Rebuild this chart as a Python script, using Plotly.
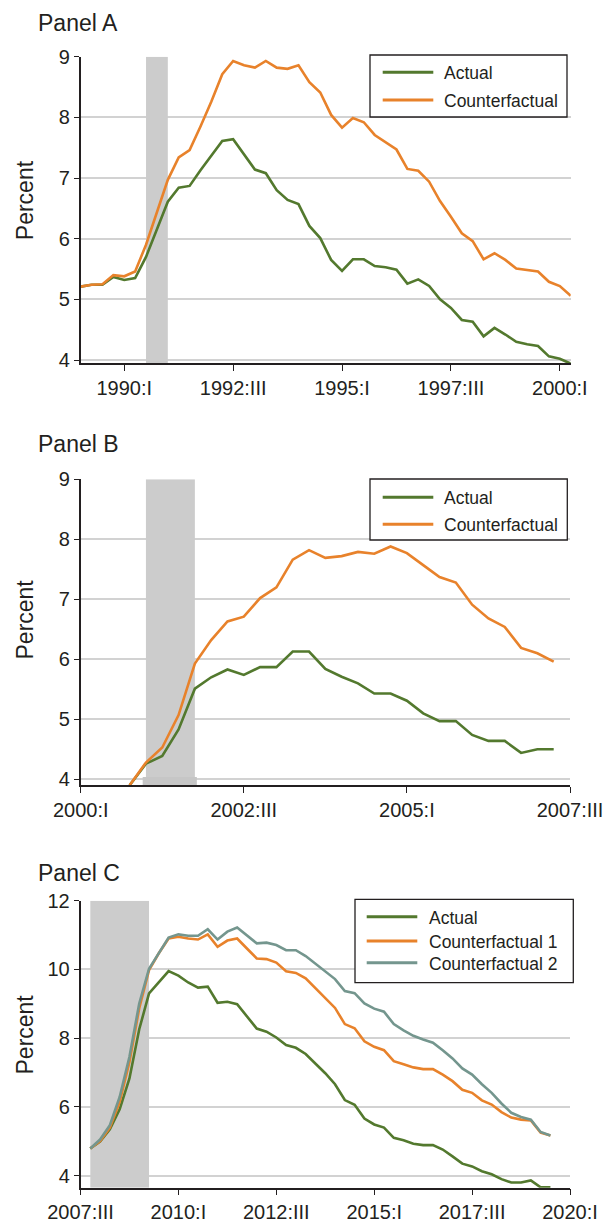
import plotly.graph_objects as go

# ---------------- data ----------------
# Panel A: quarterly, 1989:I - 2000:II
start_A = (1989, 1)
actual_A = [5.21, 5.24, 5.24, 5.37, 5.32, 5.35, 5.70, 6.17, 6.61, 6.84, 6.87, 7.13, 7.38, 7.61, 7.64, 7.38,
            7.14, 7.08, 6.80, 6.64, 6.57, 6.21, 6.01, 5.65, 5.47, 5.66, 5.66, 5.55, 5.53, 5.49, 5.26, 5.33,
            5.22, 5.00, 4.86, 4.66, 4.63, 4.39, 4.53, 4.42, 4.30, 4.26, 4.23, 4.06, 4.02, 3.94]
cf_A = [5.21, 5.24, 5.25, 5.40, 5.38, 5.46, 5.90, 6.42, 6.97, 7.34, 7.46, 7.85, 8.26, 8.71, 8.93, 8.86,
        8.82, 8.93, 8.82, 8.80, 8.86, 8.58, 8.41, 8.04, 7.83, 7.99, 7.92, 7.71, 7.59, 7.47, 7.15, 7.12,
        6.94, 6.62, 6.36, 6.09, 5.96, 5.66, 5.76, 5.65, 5.51, 5.49, 5.46, 5.29, 5.22, 5.06]
recession_A = ((1990, 3), (1991, 1))
range_A = ((1989, 1), (2000, 2))
ticks_A = ["1990:I", "1992:III", "1995:I", "1997:III", "2000:I"]

# Panel B: quarterly, 2000:IV - 2007:II
start_B = (2000, 4)
actual_B = [3.90, 4.26, 4.39, 4.83, 5.51, 5.70, 5.83, 5.74, 5.87, 5.87, 6.13, 6.13, 5.84, 5.71, 5.60,
            5.43, 5.43, 5.31, 5.10, 4.97, 4.97, 4.74, 4.64, 4.64, 4.44, 4.50, 4.50]
cf_B = [3.90, 4.28, 4.53, 5.07, 5.93, 6.32, 6.63, 6.71, 7.02, 7.20, 7.66, 7.82, 7.69, 7.72, 7.79,
        7.76, 7.88, 7.77, 7.57, 7.37, 7.28, 6.91, 6.68, 6.54, 6.19, 6.10, 5.96]
recession_B = ((2001, 1), (2001, 4))
range_B = ((2000, 1), (2007, 3))
ticks_B = ["2000:I", "2002:III", "2005:I", "2007:III"]

# Panel C: quarterly, 2007:IV - 2019:III
start_C = (2007, 4)
actual_C = [4.79, 4.99, 5.35, 5.93, 6.83, 8.26, 9.30, 9.64, 9.95, 9.82, 9.62, 9.47, 9.50, 9.03, 9.06, 8.99,
            8.62, 8.28, 8.19, 8.02, 7.80, 7.72, 7.54, 7.27, 6.98, 6.66, 6.20, 6.06, 5.66, 5.49, 5.40, 5.10,
            5.03, 4.93, 4.89, 4.89, 4.76, 4.56, 4.35, 4.27, 4.13, 4.04, 3.90, 3.80, 3.80, 3.86, 3.66, 3.66]
cf1_C = [4.79, 5.01, 5.40, 6.15, 7.31, 8.87, 9.98, 10.47, 10.90, 10.95, 10.90, 10.87, 11.02, 10.66, 10.84, 10.90,
         10.61, 10.32, 10.30, 10.20, 9.95, 9.90, 9.74, 9.45, 9.16, 8.88, 8.41, 8.29, 7.91, 7.75, 7.65, 7.33,
         7.24, 7.15, 7.10, 7.10, 6.94, 6.75, 6.50, 6.41, 6.19, 6.07, 5.85, 5.69, 5.63, 5.61, 5.25, 5.17]
cf2_C = [4.79, 5.05, 5.47, 6.29, 7.46, 9.01, 10.02, 10.47, 10.93, 11.02, 10.98, 10.98, 11.17, 10.87, 11.10, 11.22,
         10.98, 10.76, 10.78, 10.71, 10.56, 10.56, 10.39, 10.16, 9.93, 9.72, 9.37, 9.31, 9.01, 8.86, 8.77, 8.41,
         8.23, 8.07, 7.96, 7.87, 7.65, 7.41, 7.12, 6.94, 6.66, 6.41, 6.10, 5.83, 5.71, 5.63, 5.27, 5.17]
recession_C = ((2007, 4), (2009, 2))
range_C = ((2007, 3), (2020, 1))
ticks_C = ["2007:III", "2010:I", "2012:III", "2015:I", "2017:III", "2020:I"]

series_names_AB = ["Actual", "Counterfactual"]
series_names_C = ["Actual", "Counterfactual 1", "Counterfactual 2"]

# ---------------- styling ----------------
W, H = 612, 1222
GREEN = "#53792e"
ORANGE = "#e8822b"
TEAL = "#74968e"
SHADE = "#cccccc"
GRID = "#d2d2d2"
INK = "#231f20"
FONT = "Liberation Sans, Arial, Helvetica, sans-serif"
TICK_FS = 20
LEG_FS = 17.5
TITLE_FS = 23
YT_FS = 23

ROMAN = {"I": 1, "II": 2, "III": 3, "IV": 4}


def qpos(yq):
    y, q = yq
    return y + (q - 1) / 4.0


def label_pos(lbl):
    y, r = lbl.split(":")
    return qpos((int(y), ROMAN[r]))


def series_x(start, n):
    s = qpos(start)
    return [s + k / 4.0 for k in range(n)]


def px(x):
    return x / W


def py(y):
    return 1 - y / H


fig = go.Figure()

# plot-area pixel boxes (left, top, right, bottom)
boxes = {
    "A": (80.7, 56.7, 570.7, 363.3),
    "B": (80.7, 479.3, 570.0, 785.0),
    "C": (80.5, 900.7, 570.0, 1187.7),
}
yranges = {"A": [3.946, 9.0], "B": [3.905, 9.0], "C": [3.65, 12.0]}
ydticks = {"A": 1, "B": 1, "C": 2}
xranges = {"A": range_A, "B": range_B, "C": range_C}
xticks = {"A": ticks_A, "B": ticks_B, "C": ticks_C}
axn = {"A": "", "B": "2", "C": "3"}

layout_axes = {}
for p in "ABC":
    l, t, r, b = boxes[p]
    n = axn[p]
    layout_axes["xaxis" + n] = dict(
        domain=[px(l), px(r)],
        range=[qpos(xranges[p][0]), qpos(xranges[p][1])],
        anchor="y" + n,
        tickvals=[label_pos(s) for s in xticks[p]],
        ticktext=xticks[p],
        ticks="outside", ticklen=6, tickwidth=1.3, tickcolor=INK,
        showline=True, linecolor=INK, linewidth=1.5,
        showgrid=False, zeroline=False, automargin=False,
        tickfont=dict(family=FONT, size=TICK_FS, color=INK),
        fixedrange=True,
    )
    layout_axes["yaxis" + n] = dict(
        domain=[py(b), py(t)],
        range=yranges[p],
        anchor="x" + n,
        tick0=0, dtick=ydticks[p],
        ticks="outside", ticklen=5, tickwidth=1.3, tickcolor=INK,
        showline=True, linecolor=INK, linewidth=1.5,
        showgrid=True, gridcolor=GRID, gridwidth=1.5,
        zeroline=False, automargin=False,
        tickfont=dict(family=FONT, size=TICK_FS, color=INK),
        fixedrange=True,
    )


def add_line(xs, ys, color, name, n):
    fig.add_trace(go.Scatter(
        x=xs, y=ys, mode="lines", name=name,
        line=dict(color=color, width=2.6),
        xaxis="x" + n, yaxis="y" + n, showlegend=False, hoverinfo="skip",
    ))


add_line(series_x(start_A, len(actual_A)), actual_A, GREEN, series_names_AB[0], "")
add_line(series_x(start_A, len(cf_A)), cf_A, ORANGE, series_names_AB[1], "")
add_line(series_x(start_B, len(actual_B)), actual_B, GREEN, series_names_AB[0], "2")
add_line(series_x(start_B, len(cf_B)), cf_B, ORANGE, series_names_AB[1], "2")
add_line(series_x(start_C, len(actual_C)), actual_C, GREEN, series_names_C[0], "3")
add_line(series_x(start_C, len(cf1_C)), cf1_C, ORANGE, series_names_C[1], "3")
add_line(series_x(start_C, len(cf2_C)), cf2_C, TEAL, series_names_C[2], "3")

shapes = []
# recession shading (spanning the full value range of each panel)
for p, rec in (("A", recession_A), ("B", recession_B), ("C", recession_C)):
    n = axn[p]
    shapes.append(dict(type="rect", xref="x" + n, yref="y" + n,
                       x0=qpos(rec[0]), x1=qpos(rec[1]),
                       y0=yranges[p][0], y1=yranges[p][1],
                       fillcolor=SHADE, line=dict(width=0), layer="between"))
# small darker patch at the foot of the Panel B shading
shapes.append(dict(type="rect", xref="x2", yref="y2",
                   x0=qpos(recession_B[0]) - 0.05, x1=qpos(recession_B[1]) + 0.03,
                   y0=3.88, y1=4.04, fillcolor="#c6c6c6", line=dict(width=0), layer="between"))

annotations = []

# manual legends: (box l, t, r, b), item y centres, line x0/x1, text x
legends = [
    ((370, 55, 567, 117), [72.3, 100.0], series_names_AB, [GREEN, ORANGE], (382.7, 433.3, 441.7)),
    ((370, 479, 567.3, 540), [497.3, 524.3], series_names_AB, [GREEN, ORANGE], (382.7, 433.3, 441.7)),
    ((355, 899.3, 573.3, 982.7), [916.7, 941.0, 962.7], series_names_C, [GREEN, ORANGE, TEAL], (366.7, 417.3, 426.7)),
]
for (bl, bt, br, bb), ys, names, cols, (lx0, lx1, tx) in legends:
    shapes.append(dict(type="rect", xref="paper", yref="paper",
                       x0=px(bl), x1=px(br), y0=py(bb), y1=py(bt),
                       fillcolor="white", line=dict(color=INK, width=1.3), layer="above"))
    for yy, nm, c in zip(ys, names, cols):
        shapes.append(dict(type="line", xref="paper", yref="paper",
                           x0=px(lx0), x1=px(lx1), y0=py(yy), y1=py(yy),
                           line=dict(color=c, width=3), layer="above"))
        annotations.append(dict(text=nm, xref="paper", yref="paper", x=px(tx), y=py(yy + 1),
                                xanchor="left", yanchor="middle", showarrow=False,
                                font=dict(family=FONT, size=LEG_FS, color=INK)))

# panel titles
for txt, yc in (("Panel A", 23.0), ("Panel B", 443.5), ("Panel C", 872.5)):
    annotations.append(dict(text=txt, xref="paper", yref="paper", x=px(35.5), y=py(yc),
                            xanchor="left", yanchor="middle", showarrow=False,
                            font=dict(family=FONT, size=TITLE_FS, color=INK)))

# y-axis titles
for yc in (199.7, 619.0, 1034.0):
    annotations.append(dict(text="Percent", xref="paper", yref="paper", x=px(24.5), y=py(yc),
                            xanchor="center", yanchor="middle", textangle=-90, showarrow=False,
                            font=dict(family=FONT, size=YT_FS, color=INK)))

fig.update_layout(
    width=W, height=H,
    margin=dict(l=0, r=0, t=0, b=0, pad=0, autoexpand=False),
    paper_bgcolor="white", plot_bgcolor="white",
    showlegend=False,
    shapes=shapes, annotations=annotations,
    font=dict(family=FONT, color=INK),
    **layout_axes,
)

fig.write_html("out.html", config={"displayModeBar": False},
               post_script="document.body.style.margin='0px';")
